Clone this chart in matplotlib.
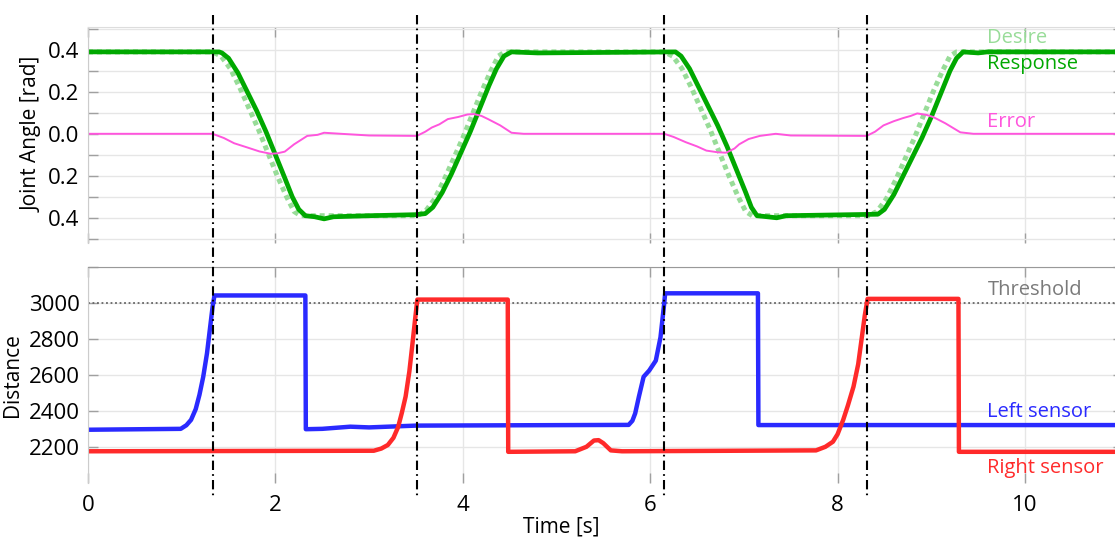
import numpy as np
import matplotlib
matplotlib.use("Agg")
import matplotlib.pyplot as plt
from matplotlib.lines import Line2D
from matplotlib.transforms import blended_transform_factory

plt.rcParams['font.family'] = ['Open Sans', 'DejaVu Sans']

# ---- data ----
desire_t = [0, 1.33, 1.42, 1.52, 1.62, 1.72, 1.82, 1.92, 2.02, 2.12, 2.20, 2.27,
            3.51, 3.60, 3.70, 3.80, 3.90, 4.00, 4.10, 4.20, 4.30, 4.38, 4.45,
            6.15, 6.24, 6.34, 6.44, 6.54, 6.64, 6.74, 6.84, 6.94, 7.02, 7.09,
            8.33, 8.42, 8.52, 8.62, 8.72, 8.82, 8.92, 9.02, 9.12, 9.20, 9.27, 11.05]
desire_v = [0.39, 0.39, 0.37, 0.31, 0.22, 0.12, 0.02, -0.09, -0.20, -0.30, -0.37, -0.39,
            -0.39, -0.37, -0.31, -0.22, -0.12, -0.02, 0.09, 0.20, 0.30, 0.37, 0.39,
            0.39, 0.37, 0.31, 0.22, 0.12, 0.02, -0.09, -0.20, -0.30, -0.37, -0.39,
            -0.39, -0.37, -0.31, -0.22, -0.12, -0.02, 0.09, 0.20, 0.30, 0.37, 0.39, 0.39]

resp_t = [0, 1.40, 1.43, 1.50, 1.60, 1.70, 1.80, 1.90, 2.00, 2.10, 2.18, 2.25, 2.32, 2.42, 2.52,
          2.62, 3.00, 3.50, 3.60, 3.68, 3.78, 3.88, 3.98, 4.08, 4.18, 4.28, 4.36, 4.44, 4.52,
          4.80, 6.27, 6.33, 6.42, 6.52, 6.62, 6.72, 6.82, 6.92, 7.02, 7.08, 7.14, 7.25, 7.35,
          7.45, 8.43, 8.50, 8.60, 8.70, 8.80, 8.90, 9.00, 9.10, 9.20, 9.27, 9.34, 9.50, 9.60, 11.05]
resp_v = [0.39, 0.39, 0.385, 0.36, 0.29, 0.20, 0.11, 0.01, -0.10, -0.21, -0.30, -0.36, -0.39, -0.395, -0.405,
          -0.395, -0.39, -0.385, -0.38, -0.35, -0.28, -0.19, -0.09, 0.01, 0.12, 0.23, 0.31, 0.37, 0.39,
          0.385, 0.39, 0.37, 0.31, 0.22, 0.13, 0.04, -0.06, -0.17, -0.28, -0.35, -0.39, -0.395, -0.40,
          -0.39, -0.383, -0.36, -0.29, -0.20, -0.11, -0.02, 0.08, 0.19, 0.30, 0.36, 0.39, 0.385, 0.39, 0.39]

err_t = [0, 1.33, 1.45, 1.56, 1.70, 1.83, 1.95, 2.02, 2.10, 2.20, 2.34, 2.45, 2.52, 2.70, 3.00,
         3.51, 3.60, 3.67, 3.75, 3.84, 3.95, 4.05, 4.12, 4.20, 4.27, 4.40, 4.52, 4.65, 5.00,
         6.15, 6.25, 6.38, 6.50, 6.60, 6.72, 6.81, 6.90, 6.95, 7.05, 7.17, 7.34, 7.50,
         8.31, 8.40, 8.49, 8.60, 8.70, 8.78, 8.85, 8.95, 9.02, 9.15, 9.31, 9.45, 11.05]
err_v = [0, 0, -0.02, -0.045, -0.065, -0.084, -0.095, -0.093, -0.085, -0.05, -0.01, -0.005, 0.005, 0.0, -0.008,
         -0.01, 0.01, 0.03, 0.045, 0.07, 0.08, 0.092, 0.094, 0.085, 0.07, 0.04, 0.005, 0.0, 0.0,
         0.0, -0.015, -0.04, -0.06, -0.08, -0.088, -0.09, -0.07, -0.05, -0.025, -0.01, 0.0, -0.008,
         -0.01, 0.01, 0.04, 0.06, 0.075, 0.085, 0.097, 0.09, 0.08, 0.05, 0.007, 0.0, 0.0]

left_t = [0, 0.99, 1.05, 1.10, 1.15, 1.19, 1.23, 1.27, 1.30, 1.33, 1.35, 2.32, 2.325, 2.5, 2.8, 3.0,
          3.5, 5.77, 5.81, 5.84, 5.88, 5.93, 5.99, 6.06, 6.11, 6.15, 6.16, 7.15, 7.155, 11.05]
left_v = [2295, 2300, 2320, 2350, 2410, 2490, 2590, 2720, 2850, 2980, 3043, 3043, 2298, 2300, 2312, 2308,
          2318, 2322, 2345, 2386, 2480, 2590, 2625, 2680, 2810, 3000, 3055, 3055, 2321, 2321]

right_t = [0, 3.05, 3.13, 3.20, 3.26, 3.31, 3.35, 3.39, 3.43, 3.46, 3.49, 3.515, 4.48, 4.485,
           5.20, 5.32, 5.40, 5.45, 5.50, 5.58, 5.70, 7.77, 7.87, 7.95, 8.00, 8.06, 8.11, 8.17,
           8.22, 8.26, 8.29, 8.32, 9.29, 9.295, 11.05]
right_v = [2175, 2178, 2190, 2210, 2250, 2310, 2390, 2480, 2620, 2760, 2904, 3020, 3020, 2172,
           2175, 2200, 2235, 2237, 2220, 2180, 2175, 2180, 2200, 2228, 2270, 2350, 2430, 2535,
           2660, 2814, 2930, 3024, 3024, 2172, 2172]

threshold = 3000
events = [1.33, 3.51, 6.15, 8.31]
xticks = [0, 2, 4, 6, 8, 10]
top_ticks = [0.4, 0.2, 0.0, -0.2, -0.4]
top_ticklabels = ["0.4", "0.2", "0.0", "0.2", "0.4"]
bot_ticks = [2200, 2400, 2600, 2800, 3000]

# ---- figure ----
fig = plt.figure(figsize=(11.15, 5.38), dpi=100)
ax1 = fig.add_axes([0.0789, 0.5483, 0.9286, 0.4021])
ax2 = fig.add_axes([0.0789, 0.1028, 0.9286, 0.4004])

gridc = "#e6e6e6"
tickc = "#a0a0a0"

for ax in (ax1, ax2):
    ax.set_xlim(0, 11.05)
    ax.set_xticks(xticks)
    ax.tick_params(which="both", direction="in", length=7, width=1, color=tickc,
                   top=True, right=True, labelsize=16, pad=6)
    ax.grid(True, which="both", color=gridc, lw=1)
    ax.set_axisbelow(True)
    ax.spines["bottom"].set_visible(False)
    ax.spines["right"].set_visible(False)
    ax.spines["left"].set_color("#cccccc")
ax1.spines["top"].set_color("#dddddd")
ax2.spines["top"].set_color("#999999")

# top panel
ax1.plot(desire_t, desire_v, color="#98dc98", lw=3.6, linestyle=(0, (1, 0.8)))
ax1.plot(resp_t, resp_v, color="#00a800", lw=3.4)
ax1.plot(err_t, err_v, color="#ff55dd", lw=1.4)
ax1.set_ylim(-0.52, 0.51)
ax1.set_yticks(top_ticks)
ax1.set_yticklabels(top_ticklabels)
ax1.set_yticks(np.arange(-0.5, 0.51, 0.1), minor=True)
ax1.tick_params(axis="x", labelbottom=False)
ax1.set_ylabel("Joint Angle [rad]", fontsize=15)

ax1.text(9.6, 0.457, "Desire", color="#98dc98", fontsize=14.5, va="center")
ax1.text(9.6, 0.33, "Response", color="#00a800", fontsize=14.5, va="center")
ax1.text(9.6, 0.058, "Error", color="#ff55dd", fontsize=14.5, va="center")

# bottom panel
ax2.axhline(threshold, color="#666666", lw=1.3, linestyle=(0, (1, 1.5)))
ax2.plot(left_t, left_v, color="#2a2aff", lw=3.2)
ax2.plot(right_t, right_v, color="#ff2a2a", lw=3.2)
ax2.set_ylim(2000, 3200)
ax2.set_yticks(bot_ticks)
ax2.set_yticks([3200], minor=True)
ax2.tick_params(axis="x", pad=9)
ax2.set_ylabel("Distance", fontsize=15)
ax2.set_xlabel("Time [s]", fontsize=15)
ax2.xaxis.set_label_coords((561 - 88) / (0.9286 * 1115), -0.155)

ax2.text(9.6, 3071, "Threshold", color="#7a7a7a", fontsize=14.5, va="center")
ax2.text(9.6, 2395, "Left sensor", color="#2a2aff", fontsize=14.5, va="center")
ax2.text(9.6, 2080, "Right sensor", color="#ff2a2a", fontsize=14.5, va="center")

# event markers crossing both panels
tr = blended_transform_factory(ax1.transData, fig.transFigure)
for e in events:
    fig.add_artist(Line2D([e, e], [0.972, 0.0716], transform=tr, color="black",
                          lw=1.5, linestyle=(0, (4.5, 2, 0.8, 2))))

fig.savefig("out.png", dpi=100)
